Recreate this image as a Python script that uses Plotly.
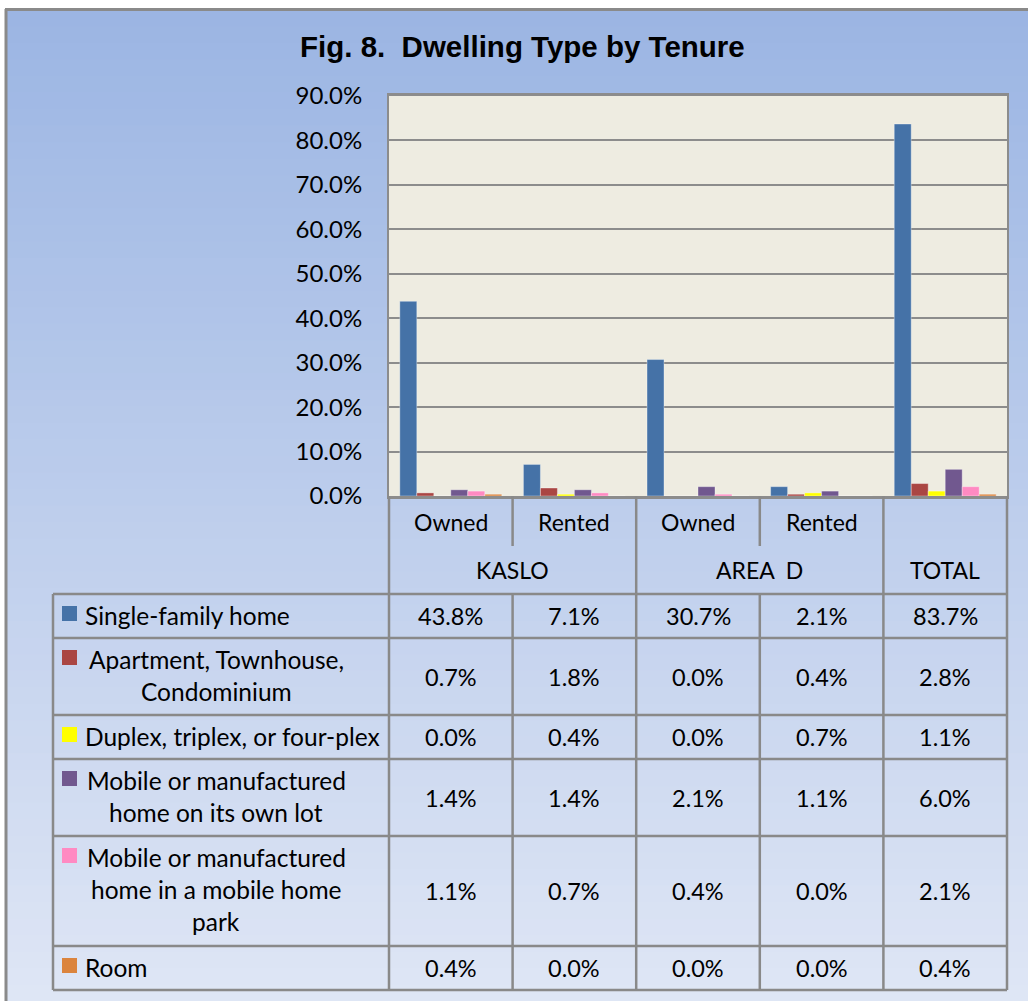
import plotly.graph_objects as go

# ---------------- data ----------------
groups = ["KASLO", "KASLO", "AREA  D", "AREA  D", "TOTAL"]
tenures = ["Owned", "Rented", "Owned", "Rented", ""]

series_names = [
    "Single-family home",
    "Apartment, Townhouse,\nCondominium",
    "Duplex, triplex, or four-plex",
    "Mobile or manufactured\nhome on its own lot",
    "Mobile or manufactured\nhome in a mobile home\npark",
    "Room",
]
single_family = [43.8, 7.1, 30.7, 2.1, 83.7]
apartment = [0.7, 1.8, 0.0, 0.4, 2.8]
duplex = [0.0, 0.4, 0.0, 0.7, 1.1]
mobile_own_lot = [1.4, 1.4, 2.1, 1.1, 6.0]
mobile_park = [1.1, 0.7, 0.4, 0.0, 2.1]
room = [0.4, 0.0, 0.0, 0.0, 0.4]
series_values = [single_family, apartment, duplex, mobile_own_lot, mobile_park, room]

colors = ["#4572A7", "#AA4643", "#FFFF00", "#71588F", "#FF8AC2", "#DB843D"]

title = "Fig. 8.  Dwelling Type by Tenure"

# ---------------- geometry (pixels of the 1028x1001 page) ----------------
W, H = 1028, 1001
PL, PR, PT, PB = 389, 1007, 96, 496      # plot area
FONT = "Lato"
GRID = "#8C8C8C"


def xp(px):
    return (px - PL) / (PR - PL)


def yp(py):
    return (PB - py) / (PB - PT)


shapes = []
annotations = []


def label(x, y, text, size, xanchor="center", family=FONT):
    annotations.append(dict(x=xp(x), y=yp(y), text=text, showarrow=False,
                            xref="paper", yref="paper", xanchor=xanchor,
                            yanchor="middle",
                            font=dict(family=family, size=size, color="#000")))


# background gradient inside frame
top_c = (155, 181, 227)
bot_c = (223, 230, 245)
N = 60
y0f, y1f = 10, H
for i in range(N):
    a = y0f + (y1f - y0f) * i / N
    b = y0f + (y1f - y0f) * (i + 1) / N + 1
    t = (i + 0.5) / N
    c = tuple(round(top_c[k] + (bot_c[k] - top_c[k]) * t) for k in range(3))
    shapes.append(dict(type="rect", xref="paper", yref="paper", layer="below",
                       x0=xp(6), x1=xp(W + 2), y0=yp(a), y1=yp(b),
                       line=dict(width=0), fillcolor="rgb(%d,%d,%d)" % c))
# frame border
shapes.append(dict(type="line", xref="paper", yref="paper", layer="below",
                   x0=xp(6), x1=xp(6), y0=yp(9), y1=yp(H + 2),
                   line=dict(color="#8A8A8A", width=3)))
shapes.append(dict(type="line", xref="paper", yref="paper", layer="below",
                   x0=xp(5), x1=xp(W + 2), y0=yp(9.5), y1=yp(9.5),
                   line=dict(color="#8A8A8A", width=3)))
# plot area background
shapes.append(dict(type="rect", xref="paper", yref="paper", layer="below",
                   x0=0, x1=1, y0=0, y1=1, line=dict(width=0),
                   fillcolor="#EEECE1"))

# ---------------- table ----------------
ncol = len(tenures)
colw = (PR - PL) / ncol
col_edges = [PL + i * colw for i in range(ncol + 1)]
LEG_L = 53
HDR1_B = 546
HDR2_B = 594
row_lines = [len(s.split("\n")) for s in series_names]
row_h = {1: 44, 2: 77, 3: 110}
row_edges = [HDR2_B]
for nl in row_lines:
    row_edges.append(row_edges[-1] + row_h[nl])
TB = row_edges[-1]
LC = "#898989"
LW = 2.5


def hline(y, xa, xb):
    shapes.append(dict(type="line", xref="paper", yref="paper",
                       x0=xp(xa), x1=xp(xb), y0=yp(y), y1=yp(y),
                       line=dict(color=LC, width=LW)))


def vline(x, ya, yb):
    shapes.append(dict(type="line", xref="paper", yref="paper",
                       x0=xp(x), x1=xp(x), y0=yp(ya), y1=yp(yb),
                       line=dict(color=LC, width=LW)))


for i in range(ncol + 1):
    if i == 0 or i == ncol or groups[i - 1] != groups[i]:
        vline(col_edges[i], PB, TB)
    else:
        vline(col_edges[i], PB, HDR1_B)
        vline(col_edges[i], HDR2_B, TB)
vline(LEG_L, HDR2_B, TB)
for y in row_edges:
    hline(y, LEG_L, PR)

HDR_SIZE = 23
NUM_SIZE = 23.5
LAB_SIZE = 24.5

for i, t in enumerate(tenures):
    if t:
        label((col_edges[i] + col_edges[i + 1]) / 2, (PB + HDR1_B) / 2 + 1, t, HDR_SIZE)
i = 0
while i < ncol:
    j = i
    while j + 1 < ncol and groups[j + 1] == groups[i]:
        j += 1
    label((col_edges[i] + col_edges[j + 1]) / 2, (HDR1_B + HDR2_B) / 2,
          groups[i].replace("  ", "&nbsp; "), HDR_SIZE)
    i = j + 1

for r, (name, vals, col) in enumerate(zip(series_names, series_values, colors)):
    top, bot = row_edges[r], row_edges[r + 1]
    lines = name.split("\n")
    shapes.append(dict(type="rect", xref="paper", yref="paper",
                       x0=xp(62), x1=xp(77), y0=yp(top + 12), y1=yp(top + 27),
                       line=dict(width=0), fillcolor=col))
    for k, ln in enumerate(lines):
        ycen = top + 21 + 32 * k
        if len(lines) == 1:
            label(83, ycen, ln, LAB_SIZE, xanchor="left")
        else:
            label(216, ycen, ln, LAB_SIZE)
    for c, v in enumerate(vals):
        label((col_edges[c] + col_edges[c + 1]) / 2, (top + bot) / 2, f"{v:.1f}%", NUM_SIZE)

label(522, 47, "<b>" + title + "</b>", 29.5,
      family="Liberation Sans Narrow, Liberation Sans, Arial")

# ---------------- bars ----------------
fig = go.Figure()
xs = list(range(ncol))
for name, vals, col in zip(series_names, series_values, colors):
    fig.add_trace(go.Bar(x=xs, y=[v / 100 for v in vals], name=name.replace("\n", " "),
                         marker=dict(color=col, line=dict(color="rgba(255,255,255,0.35)", width=1))))

fig.update_layout(
    width=W, height=H,
    margin=dict(l=PL, r=W - PR, t=PT, b=H - PB, pad=0),
    paper_bgcolor="white",
    plot_bgcolor="rgba(0,0,0,0)",
    barmode="group", bargap=0.175, bargroupgap=0,
    showlegend=False,
    shapes=shapes,
    annotations=annotations,
    xaxis=dict(range=[-0.5, ncol - 0.5], showticklabels=False, ticks="",
               showgrid=False, zeroline=False, showline=True, linecolor=GRID,
               linewidth=3, mirror=True, fixedrange=True),
    yaxis=dict(range=[0, 0.9], dtick=0.1, tickformat=".1%", showgrid=True,
               gridcolor=GRID, gridwidth=2, zeroline=False, showline=True,
               linecolor=GRID, linewidth=2, mirror=True, ticks="",
               ticklabelstandoff=20,
               tickfont=dict(family=FONT, size=24, color="#000")),
)

fig.write_html("out.html", config={"displayModeBar": False},
               post_script="document.body.style.margin='0';")
